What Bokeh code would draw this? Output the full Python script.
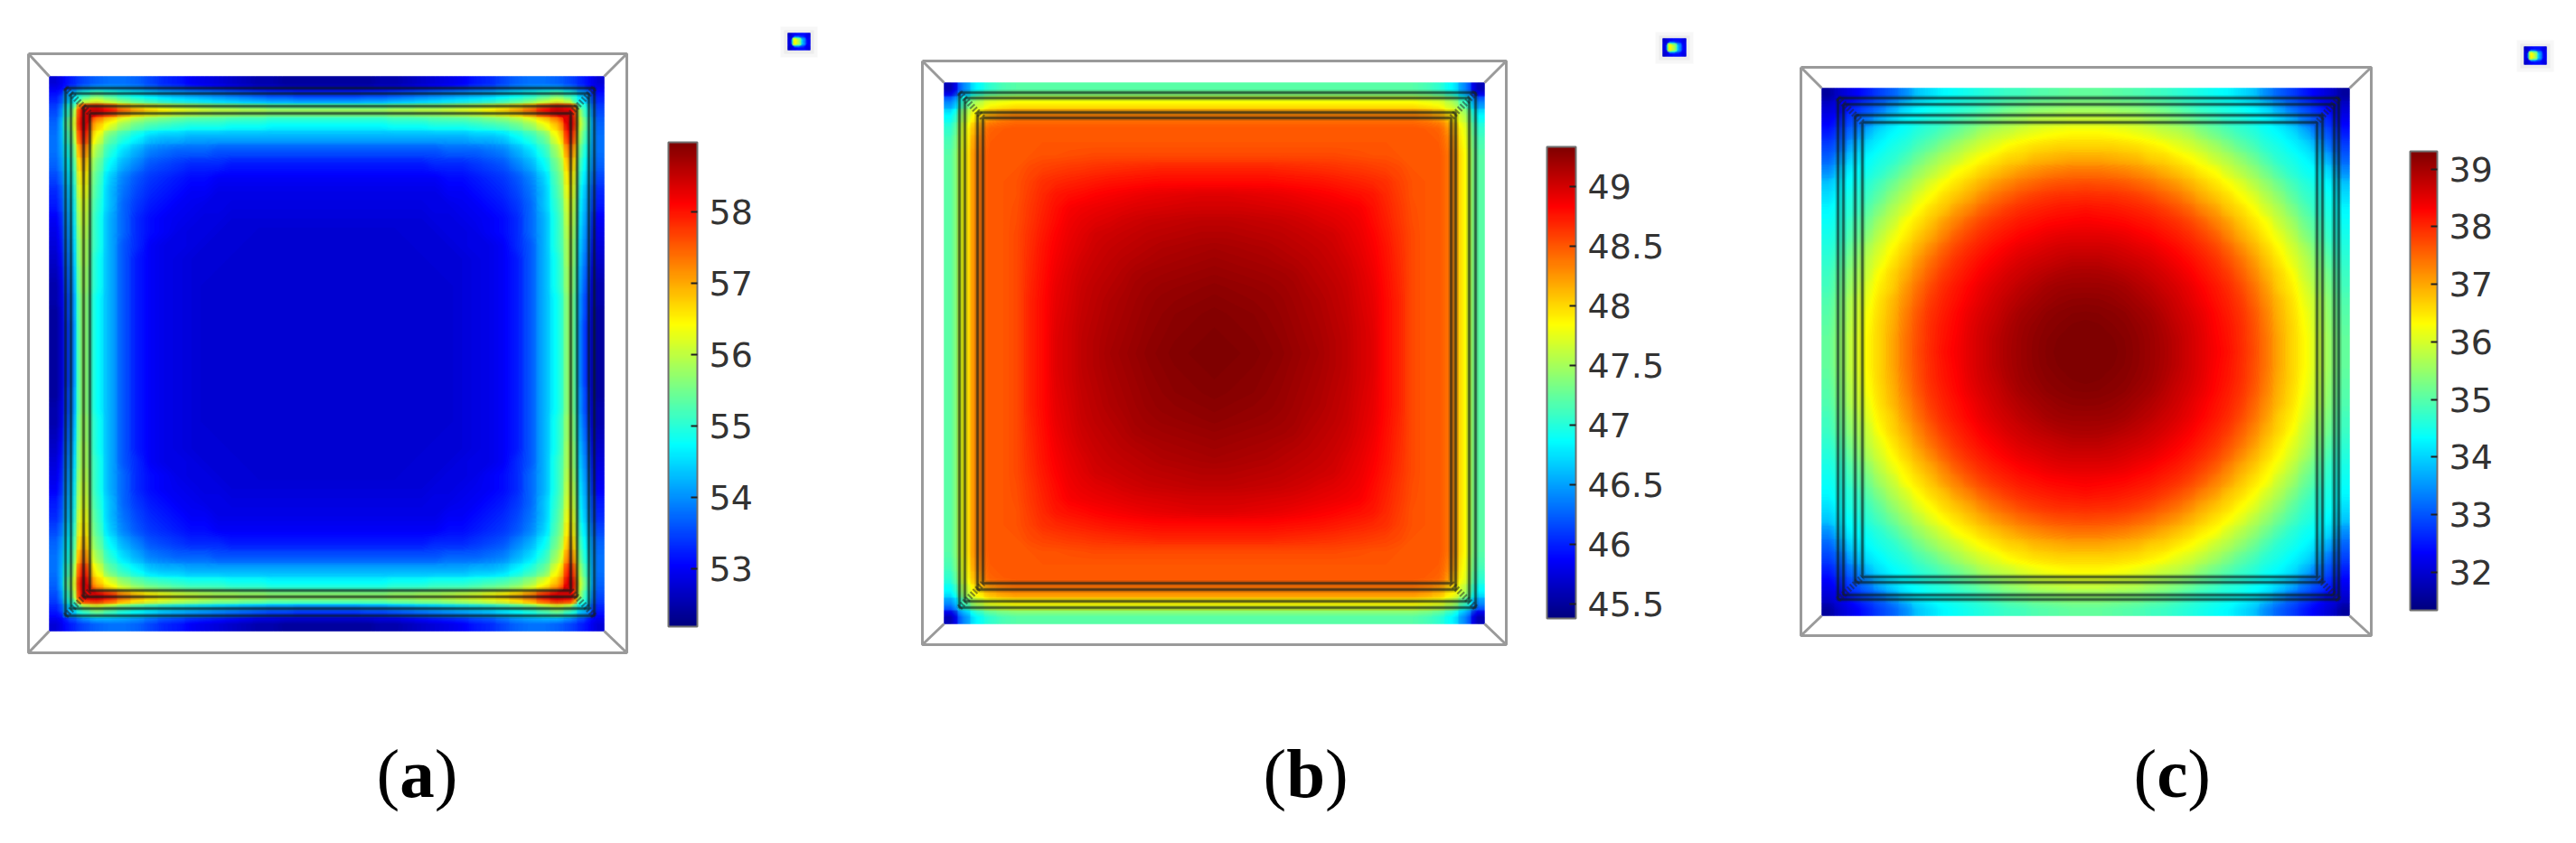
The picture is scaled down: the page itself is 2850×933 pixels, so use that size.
import numpy as np
from bokeh.plotting import figure
from bokeh.embed import file_html
from bokeh.resources import INLINE
from bokeh.core.properties import value
from bokeh.models import LinearColorMapper, ColorBar, FixedTicker, Range1d

# ---------- data: temperatures (one octant of each plate, row by row) ----------
field_a = [
 [52.8,53.2,53.5,53.7,53.8,53.8,53.7,53.5,53.3,53.2,53.0,52.9,52.8,52.7,52.6,52.5,52.5,52.4,52.4,52.4,52.4],
 [54.3,55.2,55.6,55.3,55.0,54.8,54.6,54.4,54.3,54.2,54.1,54.0,53.9,53.8,53.7,53.6,53.6,53.5,53.5,53.5],
 [58.3,58.5,58.0,57.4,57.0,56.7,56.5,56.3,56.2,56.1,56.0,56.0,55.9,55.9,55.8,55.8,55.8,55.8,55.8],
 [56.9,56.3,55.8,55.5,55.3,55.2,55.1,55.0,55.0,55.0,54.9,54.9,54.9,54.8,54.8,54.8,54.8,54.8],
 [55.4,55.0,54.7,54.4,54.3,54.3,54.2,54.2,54.2,54.2,54.2,54.2,54.2,54.2,54.2,54.2,54.2],
 [54.5,54.2,53.9,53.8,53.7,53.7,53.7,53.6,53.6,53.6,53.6,53.6,53.6,53.6,53.6,53.6],
 [53.9,53.6,53.5,53.4,53.3,53.3,53.3,53.2,53.2,53.2,53.2,53.2,53.2,53.2,53.2],
 [53.4,53.3,53.2,53.1,53.1,53.0,53.0,53.0,53.0,53.0,53.0,53.0,53.0,53.0],
 [53.2,53.1,53.0,53.0,52.9,52.9,52.9,52.9,52.9,52.9,52.9,52.9,52.9],
 [53.0,52.95,52.9,52.9,52.85,52.85,52.85,52.85,52.85,52.85,52.85,52.85],
 [52.9,52.85,52.85,52.8,52.8,52.8,52.8,52.8,52.8,52.8,52.8],
 [52.85,52.8,52.8,52.8,52.75,52.75,52.75,52.75,52.75,52.75],
 [52.8,52.8,52.75,52.75,52.75,52.75,52.75,52.75,52.75],
 [52.75,52.75,52.75,52.75,52.75,52.75,52.75,52.75],
 [52.75,52.75,52.75,52.75,52.75,52.75,52.75],
 [52.75,52.75,52.75,52.75,52.75,52.75],
 [52.75,52.75,52.75,52.75,52.75],
 [52.75,52.75,52.75,52.75],
 [52.75,52.75,52.75],
 [52.75,52.75],
 [52.75],
]
field_b = [
 [45.6,46.4,46.85,47.05,47.15,47.2,47.2,47.2,47.2,47.2,47.2,47.2,47.2,47.2,47.2,47.2,47.2,47.2,47.2,47.2,47.2],
 [47.1,47.55,47.75,47.8,47.85,47.85,47.85,47.85,47.85,47.85,47.85,47.85,47.85,47.85,47.85,47.85,47.85,47.85,47.85,47.85],
 [47.95,48.2,48.3,48.35,48.35,48.35,48.35,48.35,48.35,48.35,48.35,48.35,48.35,48.35,48.35,48.35,48.35,48.35,48.35],
 [48.45,48.48,48.5,48.5,48.5,48.5,48.5,48.5,48.5,48.5,48.5,48.5,48.5,48.5,48.5,48.5,48.5,48.5],
 [48.5,48.5,48.5,48.5,48.5,48.5,48.5,48.5,48.5,48.5,48.5,48.5,48.5,48.5,48.5,48.5,48.5],
 [48.5,48.5,48.52,48.52,48.53,48.54,48.55,48.55,48.55,48.55,48.55,48.55,48.55,48.55,48.55,48.55],
 [48.55,48.58,48.6,48.62,48.63,48.65,48.66,48.67,48.68,48.69,48.7,48.7,48.7,48.7,48.7],
 [48.65,48.68,48.7,48.72,48.74,48.76,48.77,48.78,48.79,48.8,48.8,48.8,48.8,48.8],
 [48.75,48.78,48.8,48.83,48.85,48.87,48.89,48.91,48.92,48.93,48.94,48.95,48.95],
 [48.85,48.88,48.9,48.92,48.94,48.96,48.97,48.98,48.99,49.0,49.0,49.0],
 [48.92,48.95,48.97,49.0,49.02,49.04,49.05,49.06,49.07,49.08,49.08],
 [49.0,49.02,49.04,49.06,49.08,49.09,49.1,49.11,49.12,49.12],
 [49.05,49.07,49.09,49.11,49.13,49.14,49.15,49.16,49.17],
 [49.1,49.12,49.14,49.16,49.17,49.18,49.19,49.2],
 [49.16,49.18,49.19,49.2,49.21,49.22,49.23],
 [49.2,49.22,49.23,49.24,49.25,49.26],
 [49.24,49.25,49.26,49.27,49.28],
 [49.27,49.28,49.29,49.3],
 [49.29,49.3,49.31],
 [49.31,49.32],
 [49.33],
]
field_c = [
 [31.6,32.0,32.25,32.55,32.85,33.1,33.45,33.9,34.1,34.3,34.4,34.5,34.6,34.7,34.8,34.85,34.95,35.0,35.05,35.1,35.1],
 [32.25,32.6,32.9,33.2,33.6,34.0,34.25,34.4,34.5,34.6,34.7,34.85,35.0,35.15,35.25,35.35,35.4,35.45,35.5,35.5],
 [32.95,33.3,33.75,34.05,34.3,34.45,34.6,34.7,34.9,35.05,35.25,35.4,35.55,35.65,35.8,35.85,35.9,35.95,35.95],
 [33.75,34.1,34.3,34.45,34.65,34.8,35.0,35.2,35.4,35.65,35.8,35.9,36.05,36.15,36.25,36.3,36.35,36.35],
 [34.3,34.5,34.65,34.9,35.1,35.35,35.6,35.8,36.0,36.15,36.35,36.45,36.55,36.6,36.65,36.65,36.65],
 [34.65,34.9,35.2,35.45,35.7,35.9,36.15,36.35,36.5,36.65,36.7,36.85,36.9,36.95,37.0,37.0],
 [35.2,35.5,35.75,36.0,36.3,36.45,36.65,36.8,36.95,37.1,37.2,37.3,37.35,37.4,37.4],
 [35.8,36.1,36.35,36.55,36.75,36.95,37.15,37.3,37.45,37.55,37.65,37.7,37.72,37.75],
 [36.35,36.6,36.8,37.0,37.25,37.45,37.6,37.75,37.85,37.92,37.97,37.98,38.0],
 [36.8,37.1,37.3,37.55,37.72,37.87,37.98,38.05,38.1,38.15,38.17,38.2],
 [37.35,37.6,37.8,37.95,38.05,38.15,38.2,38.27,38.3,38.33,38.35],
 [37.8,37.98,38.1,38.2,38.3,38.37,38.45,38.5,38.52,38.52],
 [38.12,38.25,38.36,38.47,38.53,38.6,38.65,38.67,38.67],
 [38.37,38.5,38.6,38.67,38.72,38.78,38.83,38.83],
 [38.62,38.7,38.8,38.87,38.93,38.96,38.97],
 [38.83,38.9,39.0,39.05,39.07,39.07],
 [39.0,39.07,39.13,39.16,39.17],
 [39.16,39.2,39.23,39.24],
 [39.24,39.28,39.3],
 [39.3,39.31],
 [39.31],
]
ticks_a = [53, 54, 55, 56, 57, 58]
ticks_b = [45.5, 46, 46.5, 47, 47.5, 48, 48.5, 49]
ticks_c = [32, 33, 34, 35, 36, 37, 38, 39]
range_a = (52.19, 58.97)
range_b = (45.38, 49.33)
range_c = (31.34, 39.31)
panel_letters = ["a", "b", "c"]
icon_values = [[.08, .12, .14, .14, .10],
               [.10, .62, .58, .30, .12],
               [.10, .64, .50, .26, .12],
               [.08, .12, .14, .14, .10]]

# ---------- layout (page pixels) ----------
W, H = 2850, 933
def Y(v):
    return H - v

# rectangles are x0, x1, y0, y1
LAYOUT = [
 dict(field=field_a, rng=range_a, ticks=ticks_a,
      outer=(31, 693, 59, 722), inner=(54, 668, 84, 698),
      wires=[(72, 657, 97, 681), (78, 651, 103, 673), (92, 638, 117, 660), (99, 631, 125, 653)],
      bar=(739, 771, 157, 693), icon=(871, 896, 36, 55), label_x=416),
 dict(field=field_b, rng=range_b, ticks=ticks_b,
      outer=(1020, 1666, 67, 713), inner=(1044, 1642, 91, 690),
      wires=[(1061, 1632, 102, 672), (1067, 1625, 108, 665), (1081, 1610, 124, 652), (1087, 1605, 130, 645)],
      bar=(1711, 1743, 162, 684), icon=(1839, 1865, 42, 62), label_x=1397),
 dict(field=field_c, rng=range_c, ticks=ticks_c,
      outer=(1992, 2623, 74, 703), inner=(2015, 2599, 97, 681),
      wires=[(2033, 2587, 108, 663), (2039, 2582, 115, 658), (2052, 2569, 127, 644), (2060, 2563, 135, 638)],
      bar=(2666, 2696, 167, 675), icon=(2792, 2817, 51, 71), label_x=2360),
]

# jet colour scale
anchors = [(0, (0, 0, 127)), (.125, (0, 0, 255)), (.375, (0, 255, 255)),
           (.625, (255, 255, 0)), (.875, (255, 0, 0)), (1, (127, 0, 0))]
def jet(n=256):
    out = []
    for k in range(n):
        f = k / (n - 1)
        for (a, ca), (b, cb) in zip(anchors, anchors[1:]):
            if a <= f <= b:
                t = (f - a) / (b - a)
                c = [round(x + (y - x) * t) for x, y in zip(ca, cb)]
                out.append("#%02x%02x%02x" % tuple(c))
                break
    return out
JET = jet()
BANDS = 200
BAND_COLORS = jet(BANDS)

def full_plate(rows):
    n = len(rows)
    q = np.zeros((n, n))
    for i, row in enumerate(rows):
        for k, v in enumerate(row):
            q[i, i + k] = v
            q[i + k, i] = v
    top = np.hstack([q, q[:, -2::-1]])
    return np.vstack([top, top[-2::-1, :]])

def centres(a, b, n):
    """Reading positions: the centre of each of n equal cells, plus both ends."""
    pitch = (b - a) / n
    return [a] + [a + (k + .5) * pitch for k in range(n)] + [b]

def filled(p, z, x0, x1, y0, y1, low, high):
    # cells underneath, so no white shows in the seams between the contour bands
    p.image(image=[z[::-1]], x=x0, y=Y(y1), dw=x1 - x0, dh=y1 - y0,
            color_mapper=LinearColorMapper(palette=JET, low=low, high=high))
    z = np.pad(z, 1, mode="edge")
    xs = centres(x0, x1, z.shape[1] - 2)
    ys = centres(Y(y1), Y(y0), z.shape[0] - 2)
    levels = np.linspace(low, high + 1e-6, BANDS + 1)
    return p.contour(xs, ys, z, levels, fill_color=BAND_COLORS, line_color=None)

p = figure(width=W - 16, height=H - 16, x_range=Range1d(0, W - 16), y_range=Range1d(16, H),
           output_backend="svg", toolbar_location=None, min_border=0,
           x_axis_location=None, y_axis_location=None, outline_line_color=None)
p.grid.visible = False

for cfg in LAYOUT:
    ox0, ox1, oy0, oy1 = cfg["outer"]
    ix0, ix1, iy0, iy1 = cfg["inner"]
    mapper = LinearColorMapper(palette=JET, low=cfg["rng"][0], high=cfg["rng"][1])
    filled(p, full_plate(cfg["field"]), ix0, ix1, iy0, iy1, *cfg["rng"])

    # outer box and its corner edges
    p.multi_line(xs=[[ox0, ox1, ox1, ox0, ox0], [ox0, ix0], [ox1, ix1], [ox0, ix0], [ox1, ix1]],
                 ys=[[Y(oy0), Y(oy0), Y(oy1), Y(oy1), Y(oy0)], [Y(oy0), Y(iy0)], [Y(oy0), Y(iy0)],
                     [Y(oy1), Y(iy1)], [Y(oy1), Y(iy1)]],
                 line_color="#9a9a9a", line_width=3)

    # wire frame of the plate layers: a soft halo and a core line
    for x0, x1, y0, y1 in cfg["wires"]:
        xs, ys = [[x0, x1, x1, x0, x0]], [[Y(y0), Y(y0), Y(y1), Y(y1), Y(y0)]]
        p.multi_line(xs=xs, ys=ys, line_color="#0a1a1a", line_alpha=0.22, line_width=6)
        p.multi_line(xs=xs, ys=ys, line_color="#0a1a1a", line_alpha=0.6, line_width=2.5)
    (a0, a1, b0, b1), (c0, c1, d0, d1) = cfg["wires"][0], cfg["wires"][3]
    p.multi_line(xs=[[a0, c0], [a1, c1], [a0, c0], [a1, c1]],
                 ys=[[Y(b0), Y(d0)], [Y(b0), Y(d0)], [Y(b1), Y(d1)], [Y(b1), Y(d1)]],
                 line_color="#202020", line_alpha=0.5, line_width=7, line_dash="2 2")

    # scale bar
    bx0, bx1, by0, by1 = cfg["bar"]
    cb = ColorBar(color_mapper=mapper, location=(bx0, H - 16 - by1),
                  width=bx1 - bx0, height=by1 - by0, padding=0, margin=0,
                  ticker=FixedTicker(ticks=cfg["ticks"]),
                  major_label_overrides={t: ("%g" % t) for t in cfg["ticks"]},
                  major_label_text_font="DejaVu Sans", major_label_text_font_size="38px",
                  major_label_text_color="#333333", label_standoff=13,
                  major_tick_line_color="#202020", major_tick_line_width=2, major_tick_in=7,
                  minor_tick_line_color=None, bar_line_color="#707070", bar_line_width=2,
                  background_fill_alpha=0, border_line_color=None)
    p.add_layout(cb, "center")

    # small legend thumbnail
    hx0, hx1, hy0, hy1 = cfg["icon"]
    p.quad(left=hx0 - 8, right=hx1 + 8, top=Y(hy0 - 7), bottom=Y(hy1 + 8), fill_color="#f2f2f2",
           fill_alpha=0.6, line_color=None)
    p.quad(left=hx0 - 4, right=hx1 + 4, top=Y(hy0 - 3), bottom=Y(hy1 + 4), fill_color="#e4e4e4",
           fill_alpha=0.6, line_color=None)
    filled(p, np.array(icon_values), hx0, hx1, hy0, hy1, 0, 1)

# panel letters
SIZE = 77
for cfg, letter in zip(LAYOUT, panel_letters):
    x = cfg["label_x"]
    base = Y(855)
    common = dict(text_font=value("Liberation Serif"), text_font_size=f"{SIZE}px",
                  text_color="#000000", text_baseline="alphabetic")
    p.text(x=[x], y=[base], text=["("], **common)
    p.text(x=[x + 0.333 * SIZE], y=[base], text=[letter], text_font_style="bold", **common)
    wid = {"a": 0.5, "b": 0.556, "c": 0.444}[letter]
    p.text(x=[x + (0.333 + wid) * SIZE], y=[base], text=[")"], **common)

open("out.html", "w").write(file_html(p, INLINE))
